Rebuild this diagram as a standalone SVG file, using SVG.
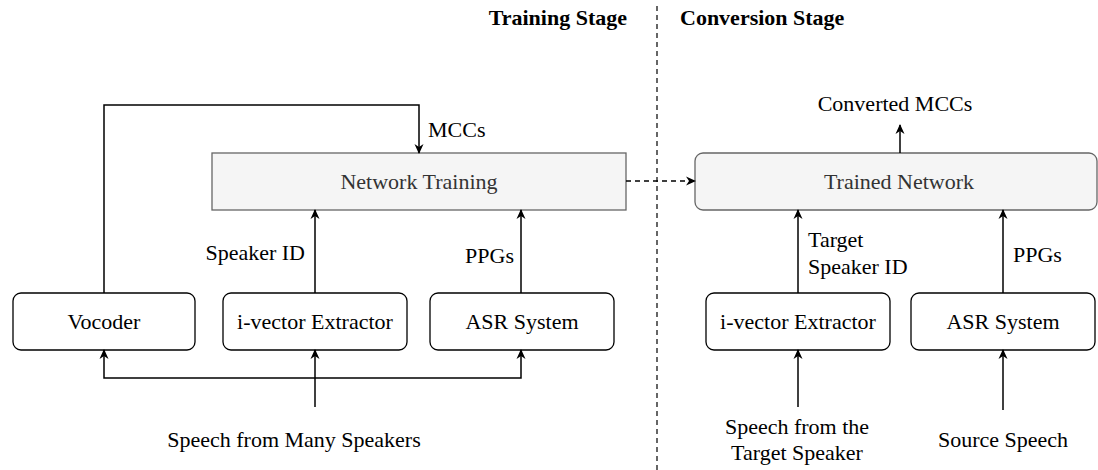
<svg xmlns="http://www.w3.org/2000/svg" width="1098" height="470" viewBox="0 0 1098 470">
  <style>
    .t { font-size: 22px; fill: #000; }
    .title { font-weight: bold; }
    .mid { text-anchor: middle; }
    .end { text-anchor: end; }
    .net { fill: #f5f5f5; stroke: #666666; stroke-width: 1.3; }
    .net-label { fill: #333333; }
    .box { fill: #ffffff; stroke: #000000; stroke-width: 1.3; }
    .wire { fill: none; stroke: #000000; stroke-width: 1.5; }
    .dash { fill: none; stroke: #000000; stroke-width: 1.3; stroke-dasharray: 5 4; }
  </style>
  <defs>
    <marker id="arrow" viewBox="0 0 10 10" refX="9" refY="5" markerWidth="10" markerHeight="10" markerUnits="userSpaceOnUse" orient="auto">
      <path d="M0,0.5 L10,5 L0,9.5 L3,5 z" fill="#000"/>
    </marker>
  </defs>

  <!-- stage headings and divider -->
  <g id="headings">
    <text style="font-family: 'Liberation Serif', serif" class="t title end" x="627" y="25">Training Stage</text>
    <text style="font-family: 'Liberation Serif', serif" class="t title" x="680" y="25">Conversion Stage</text>
    <line x1="657" y1="6" x2="657" y2="470" stroke="#000" stroke-width="1.2" stroke-dasharray="5 4"/>
  </g>

  <!-- training stage -->
  <g id="network-training">
    <rect class="net" x="212" y="153" width="414" height="57"/>
    <text style="font-family: 'Liberation Serif', serif" class="t mid net-label" x="419" y="189">Network Training</text>
  </g>
  <g id="vocoder">
    <rect class="box" x="13" y="293" width="182" height="57" rx="8"/>
    <text style="font-family: 'Liberation Serif', serif" class="t mid" x="104" y="329">Vocoder</text>
  </g>
  <g id="ivector-train">
    <rect class="box" x="223" y="293" width="184" height="57" rx="8"/>
    <text style="font-family: 'Liberation Serif', serif" class="t mid" x="315" y="329">i-vector Extractor</text>
  </g>
  <g id="asr-train">
    <rect class="box" x="430" y="293" width="184" height="57" rx="8"/>
    <text style="font-family: 'Liberation Serif', serif" class="t mid" x="522" y="329">ASR System</text>
  </g>

  <!-- conversion stage -->
  <g id="trained-network">
    <rect class="net" x="695" y="153" width="402" height="57" rx="8"/>
    <text style="font-family: 'Liberation Serif', serif" class="t mid net-label" x="899" y="189">Trained Network</text>
  </g>
  <g id="ivector-convert">
    <rect class="box" x="706" y="293" width="184" height="57" rx="8"/>
    <text style="font-family: 'Liberation Serif', serif" class="t mid" x="798" y="329">i-vector Extractor</text>
  </g>
  <g id="asr-convert">
    <rect class="box" x="911" y="293" width="184" height="57" rx="8"/>
    <text style="font-family: 'Liberation Serif', serif" class="t mid" x="1003" y="329">ASR System</text>
  </g>

  <!-- connectors -->
  <g id="connectors">
    <path class="wire" d="M104,293 V105 H419 V153" marker-end="url(#arrow)"/>
    <path class="wire" d="M315,293 V210" marker-end="url(#arrow)"/>
    <path class="wire" d="M521,293 V210" marker-end="url(#arrow)"/>
    <path class="wire" d="M315,407 V350" marker-end="url(#arrow)"/>
    <path class="wire" d="M315,378 H104 V350" marker-end="url(#arrow)"/>
    <path class="wire" d="M315,378 H521 V350" marker-end="url(#arrow)"/>
    <path class="dash" d="M626,181 H695" marker-end="url(#arrow)"/>
    <path class="wire" d="M900,153 V125" marker-end="url(#arrow)"/>
    <path class="wire" d="M798,293 V210" marker-end="url(#arrow)"/>
    <path class="wire" d="M1003,293 V210" marker-end="url(#arrow)"/>
    <path class="wire" d="M798,407 V350" marker-end="url(#arrow)"/>
    <path class="wire" d="M1003,410 V350" marker-end="url(#arrow)"/>
  </g>

  <!-- connector labels -->
  <g id="labels">
    <text style="font-family: 'Liberation Serif', serif" class="t" x="428" y="137">MCCs</text>
    <text style="font-family: 'Liberation Serif', serif" class="t end" x="305" y="260">Speaker ID</text>
    <text style="font-family: 'Liberation Serif', serif" class="t end" x="514" y="263">PPGs</text>
    <text style="font-family: 'Liberation Serif', serif" class="t mid" x="294" y="447">Speech from Many Speakers</text>
    <text style="font-family: 'Liberation Serif', serif" class="t mid" x="895" y="111">Converted MCCs</text>
    <text style="font-family: 'Liberation Serif', serif" class="t" x="808" y="247">Target</text>
    <text style="font-family: 'Liberation Serif', serif" class="t" x="808" y="274">Speaker ID</text>
    <text style="font-family: 'Liberation Serif', serif" class="t" x="1013" y="262">PPGs</text>
    <text style="font-family: 'Liberation Serif', serif" class="t mid" x="797" y="434">Speech from the</text>
    <text style="font-family: 'Liberation Serif', serif" class="t mid" x="797" y="460">Target Speaker</text>
    <text style="font-family: 'Liberation Serif', serif" class="t mid" x="1003" y="447">Source Speech</text>
  </g>
</svg>
